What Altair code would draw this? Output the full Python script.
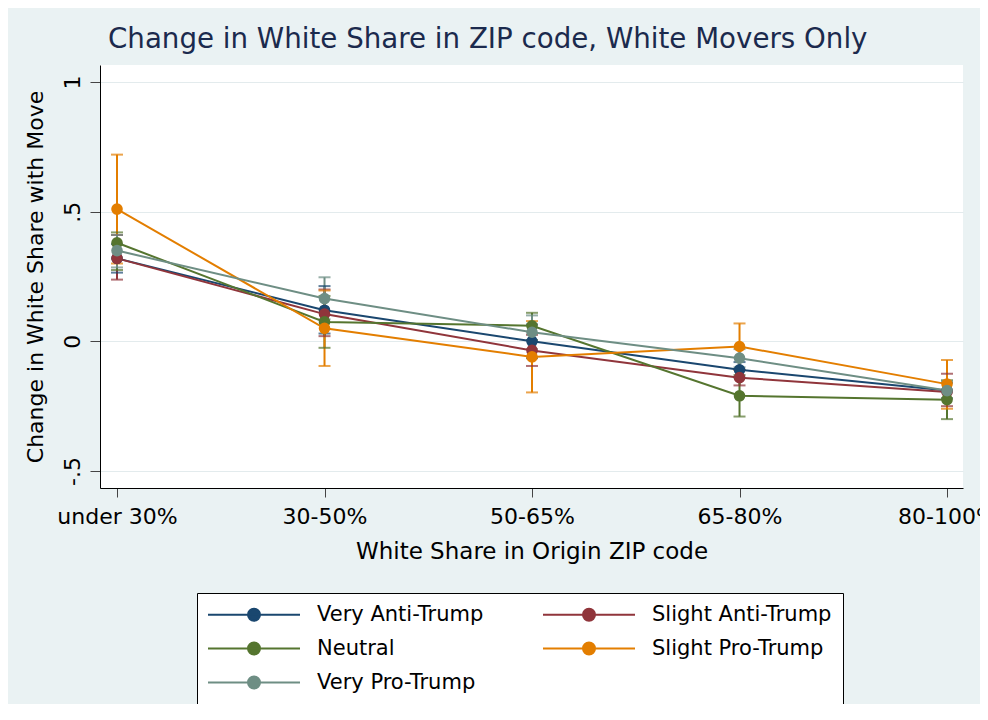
import json
import altair as alt
import pandas as pd

# ---- data ----
categories = ["under 30%", "30-50%", "50-65%", "65-80%", "80-100%"]
groups = ["Very Anti-Trump", "Slight Anti-Trump", "Neutral", "Slight Pro-Trump", "Very Pro-Trump"]
colors = ["#1a476f", "#90353b", "#55752f", "#e37e00", "#6e8e84"]

very_anti_mean = [0.32, 0.12, 0.00, -0.11, -0.19]
very_anti_lo = [0.265, 0.03, -0.065, -0.14, -0.22]
very_anti_hi = [0.375, 0.213, 0.065, -0.08, -0.16]

slight_anti_mean = [0.32, 0.105, -0.035, -0.14, -0.195]
slight_anti_lo = [0.238, 0.02, -0.095, -0.17, -0.25]
slight_anti_hi = [0.41, 0.20, 0.025, -0.11, -0.125]

neutral_mean = [0.38, 0.075, 0.06, -0.21, -0.225]
neutral_lo = [0.275, -0.025, 0.005, -0.29, -0.30]
neutral_hi = [0.42, 0.175, 0.11, -0.13, -0.15]

slight_pro_mean = [0.51, 0.05, -0.06, -0.02, -0.165]
slight_pro_lo = [0.30, -0.095, -0.197, -0.11, -0.26]
slight_pro_hi = [0.72, 0.196, 0.078, 0.069, -0.072]

very_pro_mean = [0.35, 0.165, 0.035, -0.065, -0.19]
very_pro_lo = [0.285, 0.085, -0.03, -0.10, -0.22]
very_pro_hi = [0.41, 0.247, 0.10, -0.03, -0.155]

means = [very_anti_mean, slight_anti_mean, neutral_mean, slight_pro_mean, very_pro_mean]
lows = [very_anti_lo, slight_anti_lo, neutral_lo, slight_pro_lo, very_pro_lo]
highs = [very_anti_hi, slight_anti_hi, neutral_hi, slight_pro_hi, very_pro_hi]

y_ticks = [-0.5, 0, 0.5, 1]

rows = []
for g, m, lo, hi in zip(groups, means, lows, highs):
    for i, c in enumerate(categories):
        rows.append({"group": g, "cat": c, "pos": i, "mean": m[i], "lo": lo[i], "hi": hi[i]})
df = pd.DataFrame(rows)

FONT = "DejaVu Sans"
BG = "#eaf2f3"

x_enc = alt.X(
    "pos:Q",
    scale=alt.Scale(domain=[-0.082, 4.077], nice=False, zero=False),
    axis=alt.Axis(
        values=list(range(len(categories))),
        labelExpr=json.dumps(categories) + "[datum.value]",
        title="White Share in Origin ZIP code",
        grid=False,
        tickSize=9,
        labelPadding=9,
        titlePadding=13,
        labelFontSize=22,
        titleFontSize=23,
    ),
)

y_scale = alt.Scale(domain=[-0.5656, 1.0656], nice=False, zero=False)
y_axis = alt.Axis(
    values=y_ticks,
    labelExpr="datum.value == 0.5 ? '.5' : (datum.value == -0.5 ? '-.5' : format(datum.value, 'd'))",
    title="Change in White Share with Move",
    grid=True,
    gridColor="#e3ebed",
    gridWidth=1,
    tickSize=10,
    labelAngle=-90,
    labelAlign="center",
    labelBaseline="bottom",
    labelPadding=6,
    labelFontSize=22,
    titleFontSize=22,
    titlePadding=14,
)

legend_path = "M-2.1,0H16.3M5.9,0A1.2,1.2,0,1,1,8.3,0A1.2,1.2,0,1,1,5.9,0Z"

color_enc = alt.Color(
    "group:N",
    scale=alt.Scale(domain=groups, range=colors),
    legend=alt.Legend(
        title=None,
        orient="none",
        legendX=97,
        legendY=528,
        columns=2,
        direction="horizontal",
        symbolType=legend_path,
        symbolSize=100,
        symbolStrokeWidth=2,
        labelOffset=88,
        labelFont=FONT,
        labelFontSize=21,
        labelColor="black",
        fillColor="white",
        strokeColor="black",
        padding=11,
        rowPadding=12,
        columnPadding=55,
        labelLimit=400,
        symbolOpacity=1,
    ),
)

base = alt.Chart(df)

bars = base.mark_rule(strokeWidth=2).encode(
    x=x_enc, y=alt.Y("lo:Q", scale=y_scale, axis=y_axis), y2="hi:Q", color=color_enc
)
caps_lo = base.mark_tick(orient="horizontal", size=12, thickness=2).encode(
    x=x_enc, y=alt.Y("lo:Q", scale=y_scale), color=color_enc
)
caps_hi = base.mark_tick(orient="horizontal", size=12, thickness=2).encode(
    x=x_enc, y=alt.Y("hi:Q", scale=y_scale), color=color_enc
)
lines = base.mark_line(strokeWidth=2).encode(
    x=x_enc, y=alt.Y("mean:Q", scale=y_scale), color=color_enc, detail="group:N"
)
points = base.mark_circle(size=135, opacity=1).encode(
    x=x_enc, y=alt.Y("mean:Q", scale=y_scale), color=color_enc
)

chart = (
    alt.layer(bars, caps_lo, caps_hi, lines, points)
    .properties(
        width=863,
        height=423,
        background=BG,
        padding={"left": 92, "top": 57, "right": 17, "bottom": 216},
        autosize=alt.AutoSizeParams(type="none"),
        title=alt.Title(
            "Change in White Share in ZIP code, White Movers Only",
            anchor="start",
            frame="group",
            dx=8,
            dy=27,
            offset=16,
            baseline="alphabetic",
            fontSize=27.7,
            font=FONT,
            fontWeight="normal",
            color="#1b2a4d",
        ),
    )
    .configure_view(fill="white", stroke=None)
    .configure_axis(
        domainColor="black",
        domainWidth=1,
        tickColor="#444444",
        tickWidth=1,
        labelFont=FONT,
        titleFont=FONT,
        labelColor="black",
        titleColor="black",
        titleFontWeight="normal",
    )
)

chart.save("out.html", embed_options={"renderer": "svg", "actions": False})
